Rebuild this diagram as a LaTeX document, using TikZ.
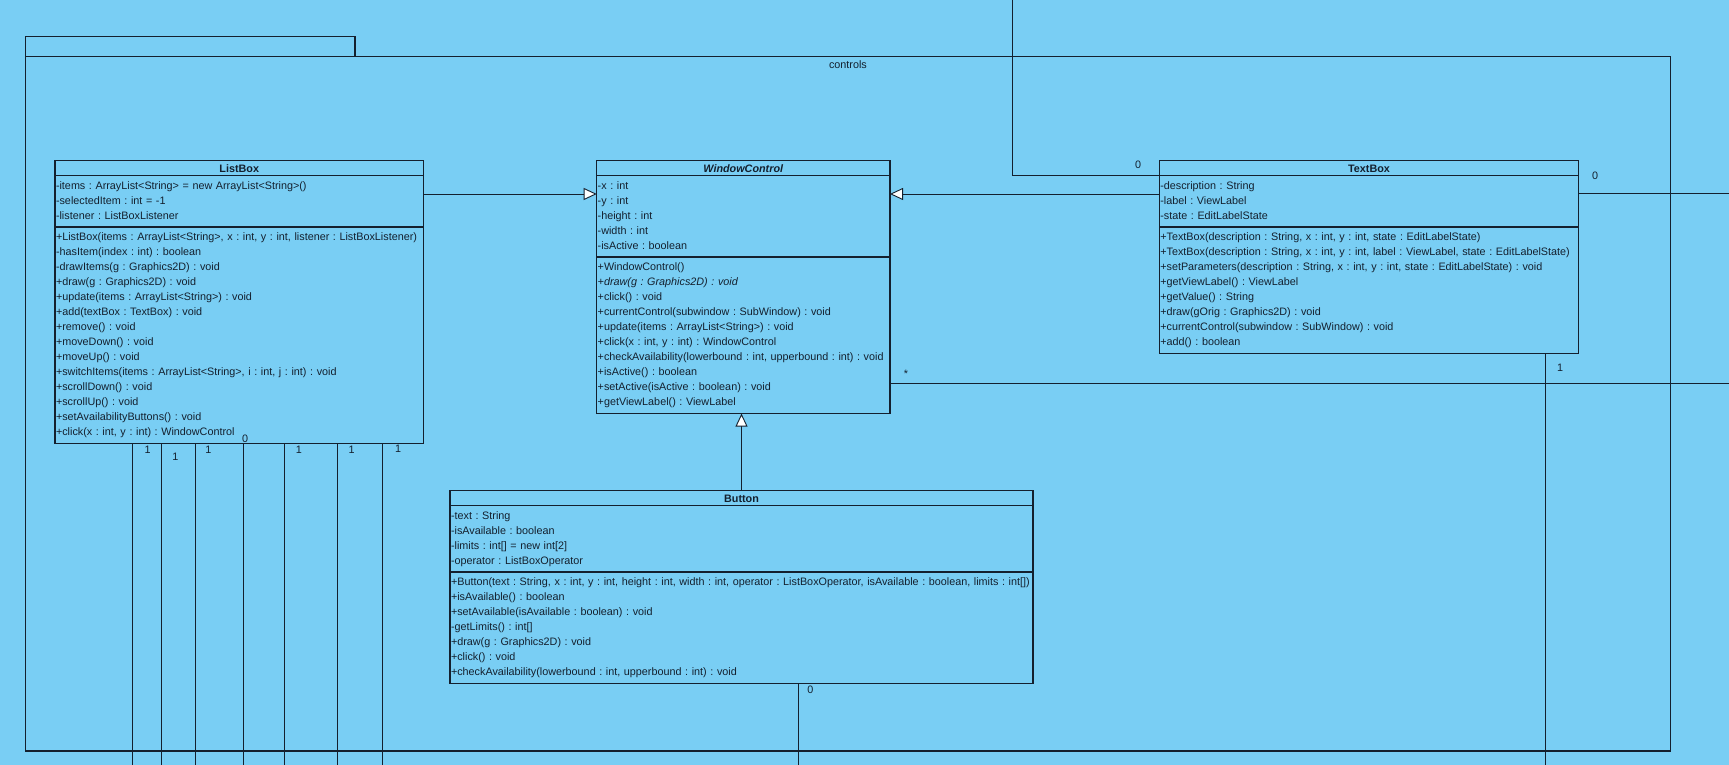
\documentclass[tikz,border=0pt]{standalone}
\usepackage{fontspec}
\setmainfont{Liberation Sans}
\frenchspacing
\hyphenpenalty=10000
\definecolor{FondVP}{HTML}{79CEF4}
\definecolor{TraitVP}{HTML}{14202E}
\usetikzlibrary{arrows.meta}
\usetikzlibrary{shapes.multipart}
\newcommand{\ClassTitle}[1]{\rule{0pt}{9pt}\hspace*{\fill}\textbf{#1}\hspace*{\fill}}
\newcommand{\PartEnd}{\rule[-5pt]{0pt}{0pt}}
\tikzset{
	umlclass/.style={draw=TraitVP, line width=1.1pt, rectangle split, rectangle split parts=3,
		inner xsep=1pt, inner ysep=2.5pt, outer sep=0pt, align=left, anchor=north west,
		font=\fontsize{10.8}{15}\selectfont, text=TraitVP},
	pkg/.style={draw=TraitVP, line width=1.2pt, anchor=north west, inner sep=0pt, outer sep=0pt},
	inherit/.style={draw=TraitVP, line width=0.9pt, -{Triangle[fill=white, length=13pt, width=12pt]}},
	assoc/.style={draw=TraitVP, line width=0.9pt},
	mult/.style={font=\fontsize{10.8}{13}\selectfont, text=TraitVP, inner sep=0pt}
}
\begin{document}
\begin{tikzpicture}[x=1pt, y=-1pt]
    \useasboundingbox (0,0) rectangle (1729,765);
    \fill[FondVP] (0,0) rectangle (1729,765);
    \clip (0,0) rectangle (1729,765);
    % package
    \node[pkg, minimum width=329.6pt, minimum height=19.9pt] (controlsTab) at (25.4,36.4) {};
    \node[pkg, minimum width=1645pt, minimum height=694.7pt] (controls) at (25.4,56.3) {};
    \node[mult] (controlsName) at (controls.north |- 0,64.3) {controls};
    % classes
    \node[umlclass, text width=366.5pt] (ListBox) at (55,160.7) {\ClassTitle{ListBox}
        \nodepart{two}\strut -items : ArrayList<String> = new ArrayList<String>()\\
        -selectedItem : int = -1\\
        -listener : ListBoxListener\strut
        \nodepart{three}\strut +ListBox(items : ArrayList<String>, x : int, y : int, listener : ListBoxListener)\\
        -hasItem(index : int) : boolean\\
        -drawItems(g : Graphics2D) : void\\
        +draw(g : Graphics2D) : void\\
        +update(items : ArrayList<String>) : void\\
        +add(textBox : TextBox) : void\\
        +remove() : void\\
        +moveDown() : void\\
        +moveUp() : void\\
        +switchItems(items : ArrayList<String>, i : int, j : int) : void\\
        +scrollDown() : void\\
        +scrollUp() : void\\
        +setAvailabilityButtons() : void\\
        +click(x : int, y : int) : WindowControl\PartEnd};
    \node[umlclass, text width=291.3pt] (WindowControl) at (596.7,160.7) {\ClassTitle{\textit{WindowControl}}
        \nodepart{two}\strut -x : int\\
        -y : int\\
        -height : int\\
        -width : int\\
        -isActive : boolean\strut
        \nodepart{three}\strut +WindowControl()\\
        \textit{+draw(g : Graphics2D) : void}\\
        +click() : void\\
        +currentControl(subwindow : SubWindow) : void\\
        +update(items : ArrayList<String>) : void\\
        +click(x : int, y : int) : WindowControl\\
        +checkAvailability(lowerbound : int, upperbound : int) : void\\
        +isActive() : boolean\\
        +setActive(isActive : boolean) : void\\
        +getViewLabel() : ViewLabel\PartEnd};
    \node[umlclass, text width=417.4pt] (TextBox) at (1159.3,160.7) {\ClassTitle{TextBox}
        \nodepart{two}\strut -description : String\\
        -label : ViewLabel\\
        -state : EditLabelState\strut
        \nodepart{three}\strut +TextBox(description : String, x : int, y : int, state : EditLabelState)\\
        +TextBox(description : String, x : int, y : int, label : ViewLabel, state : EditLabelState)\\
        +setParameters(description : String, x : int, y : int, state : EditLabelState) : void\\
        +getViewLabel() : ViewLabel\\
        +getValue() : String\\
        +draw(gOrig : Graphics2D) : void\\
        +currentControl(subwindow : SubWindow) : void\\
        +add() : boolean\PartEnd};
    \node[umlclass, text width=581pt] (Button) at (450,490.7) {\ClassTitle{Button}
        \nodepart{two}\strut -text : String\\
        -isAvailable : boolean\\
        -limits : int[] = new int[2]\\
        -operator : ListBoxOperator\strut
        \nodepart{three}\strut +Button(text : String, x : int, y : int, height : int, width : int, operator : ListBoxOperator, isAvailable : boolean, limits : int[])\\
        +isAvailable() : boolean\\
        +setAvailable(isAvailable : boolean) : void\\
        -getLimits() : int[]\\
        +draw(g : Graphics2D) : void\\
        +click() : void\\
        +checkAvailability(lowerbound : int, upperbound : int) : void\PartEnd};
    % generalizations
    \draw[inherit] (ListBox.east |- 0,194) -- (WindowControl.west |- 0,194);
    \draw[inherit] (TextBox.west |- 0,194) -- (WindowControl.east |- 0,194);
    \draw[inherit] (Button.north) -- (Button.north |- WindowControl.south);
    % associations leaving the picture
    \coordinate (topIn) at (1012,0);
    \draw[assoc] (topIn) |- (TextBox.west |- 0,175);
    \node[mult] (mTop) at (1138,165) {0};
    \coordinate (rightOut1) at (1729,193.3);
    \draw[assoc] (TextBox.east |- rightOut1) -- (rightOut1);
    \node[mult] (mRight1) at (1595,176) {0};
    \coordinate (rightOut2) at (1729,383.7);
    \draw[assoc] (WindowControl.east |- rightOut2) -- (rightOut2);
    \node[mult] (mRight2) at (906,373.5) {*};
    \coordinate (bottomOut1) at (1545.7,765);
    \draw[assoc] (TextBox.south -| bottomOut1) -- (bottomOut1);
    \node[mult] (mBottom1) at (1560,367.7) {1};
    \coordinate (bottomOut2) at (798.2,765);
    \draw[assoc] (Button.south -| bottomOut2) -- (bottomOut2);
    \node[mult] (mBottom2) at (810.4,690) {0};
    \foreach \lx/\mx/\my/\mtxt [count=\i] in {132.3/147.7/450/1, 161/175.3/456.5/1, 195.2/208.4/450/1,
        243.7/245/438.5/0, 284.5/298.8/450/1, 337.4/351.7/450/1, 382.6/398/449/1} {
        \coordinate (lbOut\i) at (\lx,765);
        \draw[assoc] (ListBox.south -| \lx,0) -- (lbOut\i);
        \node[mult] (lbm\i) at (\mx,\my) {\mtxt};
    }
\end{tikzpicture}
\end{document}
